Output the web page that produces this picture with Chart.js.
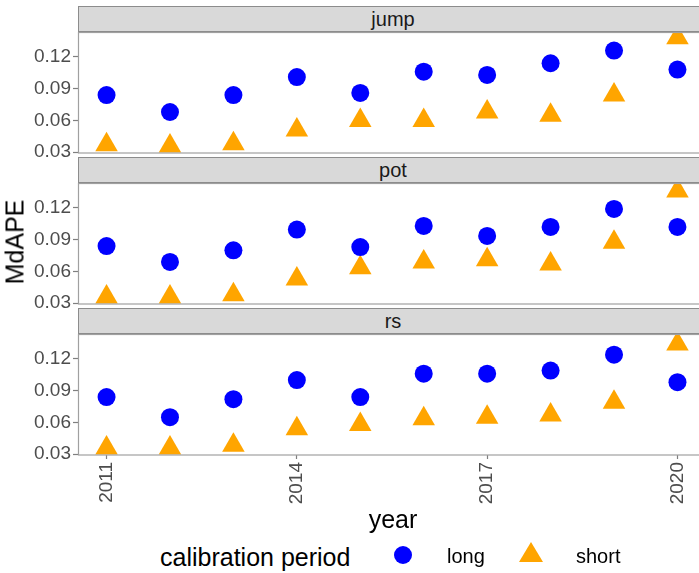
<!DOCTYPE html>
<html>
<head>
<meta charset="utf-8">
<script src="https://cdn.jsdelivr.net/npm/chart.js@4.4.1/dist/chart.umd.min.js"></script>
<style>
    body { margin: 0; width: 699px; height: 573px; overflow: hidden; background: #fff; position: relative;
           font-family: "Liberation Sans", Arial, sans-serif; }
    .panel { position: absolute; left: 0; }
    .panel canvas { display: block; }
    .strip { position: absolute; left: 78px; width: 640px; height: 26px; box-sizing: border-box;
             background: #d9d9d9; border: 1px solid #8c8c8c; border-right: none;
             font-size: 20px; line-height: 24px; color: #1a1a1a; }
    .strip span { position: absolute; left: 0; width: 628px; text-align: center; }
    .lbl { position: absolute; color: #000; white-space: nowrap; }
</style>
</head>
<body>

<script>
const years = [2011, 2012, 2013, 2014, 2015, 2016, 2017, 2018, 2019, 2020];
const panels = ["jump", "pot", "rs"];

const jumpLong  = [0.084, 0.068, 0.084, 0.101, 0.086, 0.106, 0.103, 0.114, 0.126, 0.108];
const jumpShort = [0.037, 0.036, 0.038, 0.051, 0.060, 0.060, 0.068, 0.065, 0.084, 0.138];
const potLong   = [0.084, 0.069, 0.080, 0.0995, 0.083, 0.103, 0.0935, 0.102, 0.119, 0.102];
const potShort  = [0.036, 0.036, 0.038, 0.053, 0.0635, 0.069, 0.071, 0.067, 0.0875, 0.136];
const rsLong    = [0.084, 0.065, 0.082, 0.100, 0.084, 0.106, 0.106, 0.109, 0.124, 0.098];
const rsShort   = [0.036, 0.036, 0.0385, 0.054, 0.058, 0.0635, 0.065, 0.067, 0.079, 0.134];

const yTicks = [0.03, 0.06, 0.09, 0.12];
const xTicks = [2011, 2014, 2017, 2020];

const longValues = [jumpLong, potLong, rsLong];
const shortValues = [jumpShort, potShort, rsShort];

// layout in page pixels
const plotTops = [32, 183, 334];
const plotHeight = 121;
const padV = 14;
const xAxisHeight = 62;
const canvasWidth = 706;

const panelBorder = {
    id: 'panelBorder',
    afterDraw(chart) {
        const a = chart.chartArea;
        const ctx = chart.ctx;
        ctx.save();
        ctx.strokeStyle = '#a0a0a0';
        ctx.lineWidth = 1.2;
        ctx.strokeRect(a.left + 0.5, a.top + 0.5, a.right - a.left, a.bottom - a.top - 0.5);
        ctx.restore();
    }
};

function toPoints(vals) {
    return years.map((y, i) => ({ x: y, y: vals[i] }));
}

function makePanel(i) {
    const last = i === panels.length - 1;
    const wrap = document.createElement('div');
    wrap.className = 'panel';
    const h = padV + plotHeight + (last ? xAxisHeight : padV);
    wrap.style.top = (plotTops[i] - padV) + 'px';
    const canvas = document.createElement('canvas');
    canvas.width = canvasWidth;
    canvas.height = h;
    wrap.appendChild(canvas);
    document.body.appendChild(wrap);

    new Chart(canvas.getContext('2d'), {
        type: 'scatter',
        data: {
            datasets: [{
                label: 'long',
                data: toPoints(longValues[i]),
                pointStyle: 'circle',
                pointRadius: 9,
                pointBorderWidth: 0,
                backgroundColor: '#0000ff',
                borderColor: '#0000ff',
                clip: 0
            }, {
                label: 'short',
                data: toPoints(shortValues[i]),
                pointStyle: 'triangle',
                pointRadius: 13,
                pointBorderWidth: 0,
                backgroundColor: '#ffa500',
                borderColor: '#ffa500',
                clip: 0
            }]
        },
        options: {
            responsive: false,
            animation: false,
            events: [],
            layout: { autoPadding: false, padding: { top: padV, bottom: last ? 0 : padV, left: 0, right: 0 } },
            plugins: { legend: { display: false }, tooltip: { enabled: false } },
            scales: {
                x: {
                    type: 'linear',
                    min: 2010.55,
                    max: 2020.45,
                    display: last,
                    afterBuildTicks: s => { s.ticks = xTicks.map(v => ({ value: v })); },
                    afterFit: s => { s.height = last ? xAxisHeight : 0; },
                    border: { display: false },
                    grid: { drawOnChartArea: false, tickLength: 4, color: '#7f7f7f', tickWidth: 1.2 },
                    ticks: {
                        minRotation: 90, maxRotation: 90, padding: 3,
                        color: '#4d4d4d',
                        font: { family: '"Liberation Sans", Arial, sans-serif', size: 19 },
                        callback: v => String(v)
                    }
                },
                y: {
                    type: 'linear',
                    min: 0.0293,
                    max: 0.1435,
                    afterBuildTicks: s => { s.ticks = yTicks.map(v => ({ value: v })); },
                    afterFit: s => { s.width = 78; },
                    border: { display: false },
                    grid: { drawOnChartArea: false, tickLength: 5, color: '#7f7f7f', tickWidth: 1.2 },
                    ticks: {
                        padding: 2,
                        color: '#4d4d4d',
                        font: { family: '"Liberation Sans", Arial, sans-serif', size: 19 },
                        callback: v => v.toFixed(2)
                    }
                }
            }
        },
        plugins: [panelBorder]
    });

    const strip = document.createElement('div');
    strip.className = 'strip';
    strip.style.top = (plotTops[i] - 26) + 'px';
    strip.innerHTML = '<span>' + panels[i] + '</span>';
    document.body.appendChild(strip);
}

panels.forEach((p, i) => makePanel(i));

function addLabel(text, css) {
    const d = document.createElement('div');
    d.className = 'lbl';
    d.textContent = text;
    Object.assign(d.style, css);
    document.body.appendChild(d);
    return d;
}

addLabel('MdAPE', { left: '15px', top: '242px', fontSize: '25px', transform: 'translate(-50%, -50%) rotate(-90deg)' });
addLabel('year', { left: '393px', top: '519px', fontSize: '25px', transform: 'translate(-50%, -50%)' });

// legend
addLabel('calibration period', { left: '160px', top: '557px', fontSize: '25px', transform: 'translateY(-50%)' });
addLabel('', { left: '394px', top: '546px', width: '18px', height: '18px', borderRadius: '50%', background: '#0000ff' });
addLabel('long', { left: '447px', top: '556px', fontSize: '20px', transform: 'translateY(-50%)' });
addLabel('', { left: '519px', top: '542px', width: '24px', height: '20px', background: '#ffa500',
    clipPath: 'polygon(50% 0, 100% 100%, 0 100%)' });
addLabel('short', { left: '576px', top: '556px', fontSize: '20px', transform: 'translateY(-50%)' });
</script>
</body>
</html>
